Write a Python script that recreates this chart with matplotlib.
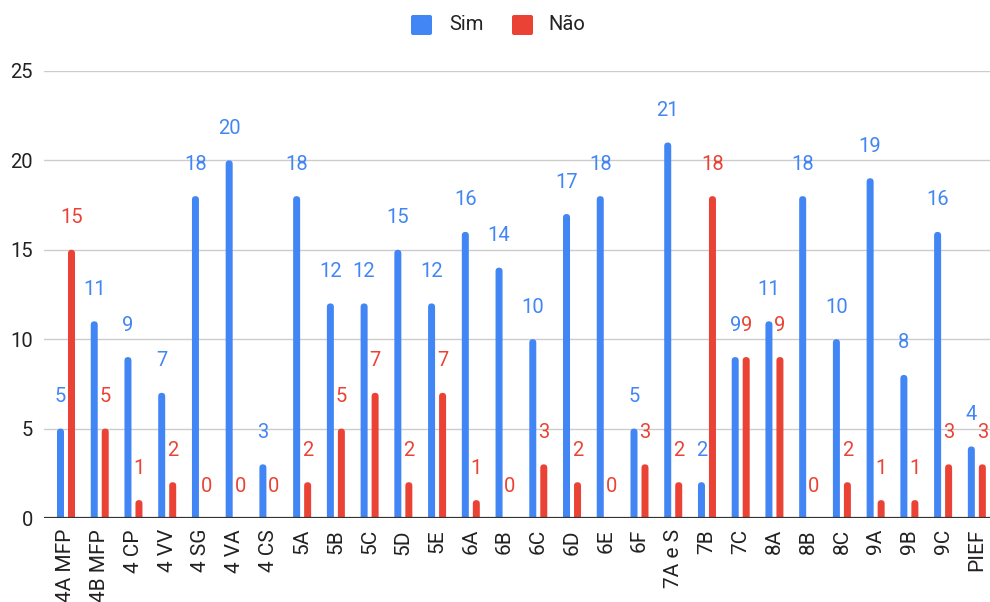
import matplotlib
matplotlib.use('Agg')
import matplotlib.pyplot as plt
from matplotlib.patches import FancyBboxPatch
import numpy as np

categories = ['4A MFP', '4B MFP', '4 CP', '4 VV', '4 SG', '4 VA', '4 CS', '5A', '5B', '5C',
              '5D', '5E', '6A', '6B', '6C', '6D', '6E', '6F', '7A e S', '7B', '7C', '8A',
              '8B', '8C', '9A', '9B', '9C', 'PIEF']
sim = [5, 11, 9, 7, 18, 20, 3, 18, 12, 12, 15, 12, 16, 14, 10, 17, 18, 5, 21, 2, 9, 11, 18, 10, 19, 8, 16, 4]
nao = [15, 5, 1, 2, 0, 0, 0, 2, 5, 7, 2, 7, 1, 0, 3, 2, 0, 3, 2, 18, 9, 9, 0, 2, 1, 1, 3, 3]
series_names = ['Sim', 'Não']
yticks = [0, 5, 10, 15, 20, 25]

BLUE = '#4285F4'
RED = '#EA4335'
TXT = '#222222'
FS = 14.5
plt.rcParams['font.family'] = ['Roboto', 'DejaVu Sans']

W, H = 990, 602
fig = plt.figure(figsize=(W / 100, H / 100), dpi=100)
ax = fig.add_axes([44 / W, 84 / H, (990 - 44) / W, (518 - 71) / H])
x = np.arange(len(categories))
ax.set_xlim(-0.652, 27.39)
ax.set_ylim(0, 25)

px_x = (990 - 44) / (27.39 + 0.652)   # pixels per x unit
px_y = (518 - 71) / 25.0              # pixels per y unit
bw = 7 / px_x
off = 5.5 / px_x
r = 3.5 / px_x
aspect = px_x / px_y

for vals, color, sign in [(sim, BLUE, -1), (nao, RED, 1)]:
    bars = ax.bar(x + sign * off, vals, width=bw, color=color)
    for rect, v in zip(bars, vals):
        rect.set_visible(False)
        if v > 0:
            ext = r * aspect
            p = FancyBboxPatch((rect.get_x(), -ext), rect.get_width(), v + ext,
                               boxstyle=f"round,pad=0,rounding_size={r}",
                               mutation_aspect=aspect, facecolor=color,
                               edgecolor='none', zorder=3)
            ax.add_patch(p)
        ax.annotate(str(v), (rect.get_x() + rect.get_width() / 2, v),
                    xytext=(0, 32), textcoords='offset pixels',
                    ha='center', va='center', fontsize=FS, color=color,
                    annotation_clip=False, zorder=4)

for s in ax.spines.values():
    s.set_visible(False)
ax.set_yticks(yticks)
ax.set_yticklabels([str(t) for t in yticks], fontsize=FS, color=TXT)
ax.set_xticks(x)
ax.set_xticklabels(categories, rotation=90, fontsize=15, color=TXT)
ax.tick_params(axis='y', length=0, pad=8)
ax.tick_params(axis='x', length=0, pad=8)
ax.yaxis.grid(True, color='#cccccc', lw=1)
ax.set_axisbelow(True)
ax.axhline(0, color='#333333', lw=1.6, zorder=5)

# legend
for name, color, sx, tx in [(series_names[0], BLUE, 411, 449), (series_names[1], RED, 512, 548)]:
    sq = FancyBboxPatch((sx / W, 1 - 35 / H), 21 / W, 20 / H,
                        boxstyle=f"round,pad=0,rounding_size={2 / W}",
                        mutation_aspect=W / H, facecolor=color, edgecolor='none',
                        transform=fig.transFigure)
    fig.patches.append(sq)
    fig.text(tx / W, 1 - 25 / H, name, fontsize=FS, color=TXT, ha='left', va='center')

fig.savefig('out.png', dpi=100)
